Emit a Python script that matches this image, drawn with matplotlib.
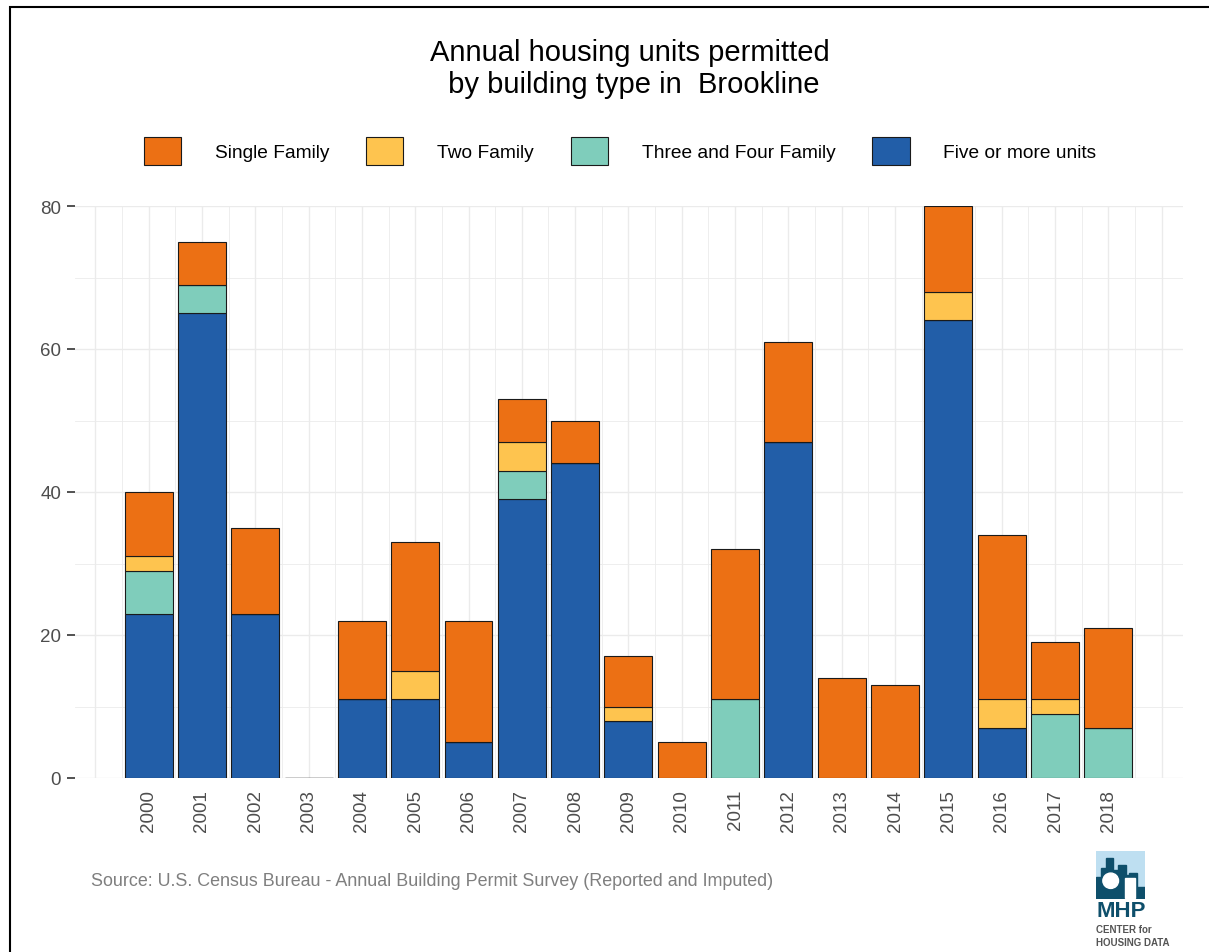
import matplotlib.pyplot as plt
import matplotlib.patches as mpatches
import numpy as np

plt.rcParams["font.family"] = ["Liberation Sans", "DejaVu Sans"]

years = list(range(2000, 2019))
five_plus = [23, 65, 23, 0, 11, 11, 5, 39, 44, 8, 0, 0, 47, 0, 0, 64, 7, 0, 0]
three_four = [6, 4, 0, 0, 0, 0, 0, 4, 0, 0, 0, 11, 0, 0, 0, 0, 0, 9, 7]
two_family = [2, 0, 0, 0, 0, 4, 0, 4, 0, 2, 0, 0, 0, 0, 0, 4, 4, 2, 0]
single_family = [9, 6, 12, 0, 11, 18, 17, 6, 6, 7, 5, 21, 14, 14, 13, 12, 23, 8, 14]

series = [
    ("Five or more units", five_plus, "#225EA8"),
    ("Three and Four Family", three_four, "#7FCDBB"),
    ("Two Family", two_family, "#FEC44F"),
    ("Single Family", single_family, "#EC7014"),
]
legend_order = ["Single Family", "Two Family", "Three and Four Family", "Five or more units"]

W, H = 1209, 953
fig = plt.figure(figsize=(W / 100, H / 100), dpi=100)
ax = fig.add_axes([75 / W, 1 - 779 / H, (1183 - 75) / W, (779 - 207) / H])

x = np.array(years, dtype=float)
bottom = np.zeros(len(years))
handles = {}
for name, vals, col in series:
    vals = np.array(vals, dtype=float)
    b = ax.bar(x, vals, width=0.9, bottom=bottom, color=col, edgecolor="#1a1a1a",
               linewidth=0.8, zorder=3)
    handles[name] = b
    bottom += vals

ax.set_xlim(1998.62, 2019.4)
ax.set_ylim(0, 80)

# grid
for gx in np.arange(1999, 2019.01, 0.5):
    lw = 1.0 if float(gx).is_integer() else 0.6
    ax.axvline(gx, color="#EBEBEB", lw=lw, zorder=0)
for gy in range(0, 81, 10):
    lw = 1.0 if gy % 20 == 0 else 0.6
    ax.axhline(gy, color="#EBEBEB", lw=lw, zorder=0)

for s in ax.spines.values():
    s.set_visible(False)

ax.set_xticks(years)
ax.set_xticklabels([str(y) for y in years], rotation=90, fontsize=13.5, color="#4D4D4D")
ax.tick_params(axis="x", length=0, pad=8)
ax.set_yticks([0, 20, 40, 60, 80])
ax.set_yticklabels(["0", "20", "40", "60", "80"], fontsize=13.5, color="#4D4D4D")
ax.tick_params(axis="y", length=6, width=1.2, color="#333333", pad=4)

fig.text(0.521, 1 - 69 / H, "Annual housing units permitted\n by building type in  Brookline",
         ha="center", va="center", fontsize=21, linespacing=1.17)

leg = fig.legend([handles[n] for n in legend_order], legend_order, loc="center",
                 bbox_to_anchor=(620 / W, 1 - 152 / H), ncol=4, frameon=False,
                 fontsize=13.8, handlelength=1.95, handleheight=1.95,
                 handletextpad=1.75, columnspacing=1.93)

fig.text(91 / W, 1 - 882 / H,
         "Source: U.S. Census Bureau - Annual Building Permit Survey (Reported and Imputed)",
         ha="left", va="center", fontsize=12.9, color="#7F7F7F")

# logo
lax = fig.add_axes([1096 / W, 1 - 900 / H, 49 / W, 48 / H])
lax.set_xlim(0, 10)
lax.set_ylim(0, 10)
lax.axis("off")
lax.add_patch(mpatches.Rectangle((0, 0), 10, 10, color="#BEDFF1"))
for bx, bw, bh in [(0, 1.2, 4.5), (1.0, 1.2, 6.5), (2.0, 1.5, 8.5), (3.3, 1.4, 6.0),
                   (4.5, 1.6, 7.0), (5.9, 1.0, 5.0), (6.8, 1.5, 5.5), (8.2, 1.8, 2.5)]:
    lax.add_patch(mpatches.Rectangle((bx, 0), bw, bh, color="#0E4F6B"))
lax.add_patch(mpatches.Circle((3.0, 3.8), 1.6, color="white"))
lax.add_patch(mpatches.Rectangle((6.0, 0.3), 2.0, 4.0, color="white"))
fig.text(1121 / W, 1 - 912 / H, "MHP", ha="center", va="center", fontsize=16,
         fontweight="bold", color="#0E4F6B")
fig.text(1096 / W, 1 - 930 / H, "CENTER for", ha="left", va="center", fontsize=7,
         color="#555555", fontweight="bold")
fig.text(1096 / W, 1 - 943 / H, "HOUSING DATA", ha="left", va="center", fontsize=7,
         color="#555555", fontweight="bold")

# border
fig.patches.append(mpatches.Rectangle((10 / W, -0.1), 1.2, (1 - 8 / H) + 0.1,
                                      transform=fig.transFigure, fill=False,
                                      edgecolor="black", lw=1.5))

fig.savefig("out.png", dpi=100)
